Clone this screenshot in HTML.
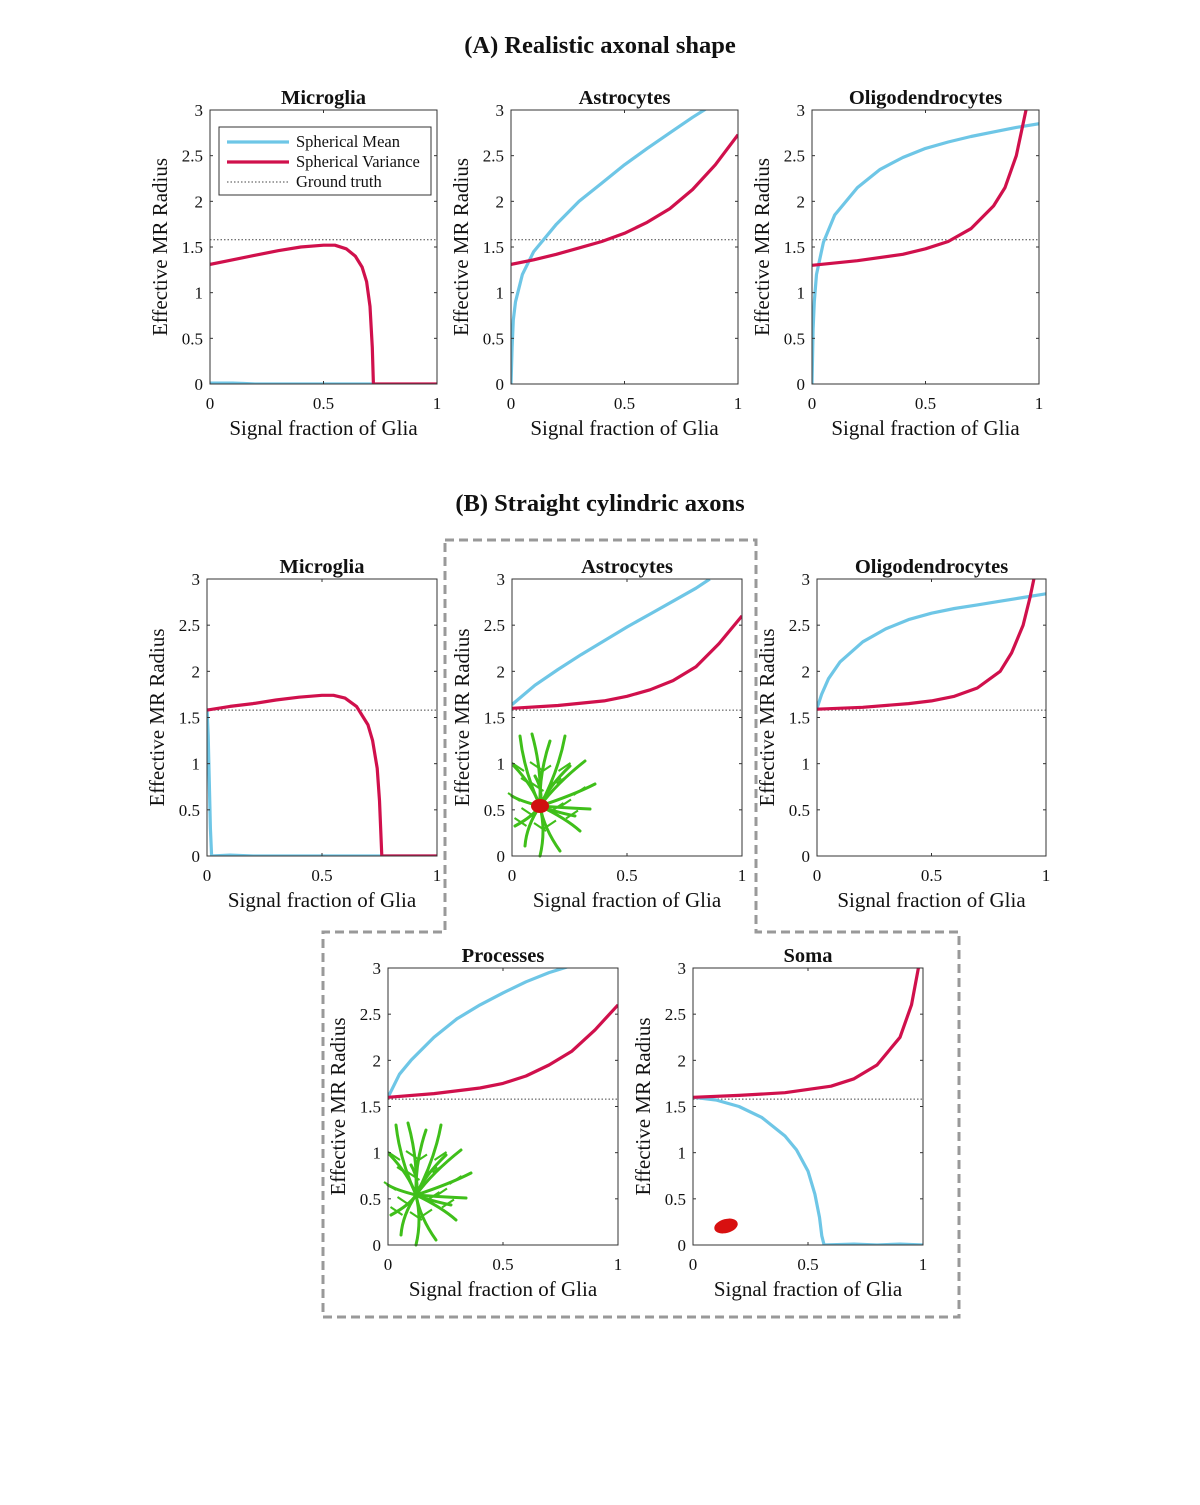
<!DOCTYPE html>
<html><head><meta charset="utf-8">
<style>
html,body{margin:0;padding:0;background:#fff;}
svg text{font-family:"Liberation Serif",serif;fill:#111;}
</style></head>
<body>
<svg id="fig" xmlns="http://www.w3.org/2000/svg" width="1200" height="1500" viewBox="0 0 1200 1500">
<rect width="1200" height="1500" fill="#fff"/>
<text x="600" y="53" text-anchor="middle" font-size="24.5" font-weight="bold">(A) Realistic axonal shape</text>
<text x="600" y="511" text-anchor="middle" font-size="24.5" font-weight="bold">(B) Straight cylindric axons</text>
<path d="M445,540 H756 V932 H959 V1317 H323 V932 H445 Z" fill="none" stroke="#999" stroke-width="3" stroke-dasharray="9,5"/>
<g id="panels"></g>
</svg>
<script>
// ---- data ----
const groundTruth = 1.58;
const yTicks = [0, 0.5, 1, 1.5, 2, 2.5, 3];
const yTickLabels = ["0","0.5","1","1.5","2","2.5","3"];
const xTicks = [0, 0.5, 1];
const xTickLabels = ["0","0.5","1"];

const aMicroSmX = [0,0.05,0.1,0.15,0.2,0.5,0.72];
const aMicroSmY = [0.01,0.01,0.01,0.005,0,0,0];
const aMicroSvX = [0,0.1,0.2,0.3,0.4,0.5,0.55,0.6,0.64,0.67,0.69,0.705,0.715,0.72,0.8,1];
const aMicroSvY = [1.31,1.36,1.41,1.46,1.5,1.52,1.52,1.48,1.4,1.28,1.12,0.85,0.4,0,0,0];

const aAstroSmX = [0,0.005,0.01,0.02,0.03,0.05,0.1,0.2,0.3,0.4,0.5,0.6,0.7,0.8,0.87];
const aAstroSmY = [0,0.4,0.7,0.9,1.0,1.2,1.45,1.75,2.0,2.2,2.4,2.58,2.75,2.92,3.03];
const aAstroSvX = [0,0.1,0.2,0.3,0.4,0.5,0.6,0.7,0.8,0.9,1];
const aAstroSvY = [1.31,1.36,1.42,1.49,1.56,1.65,1.77,1.92,2.13,2.4,2.73];

const aOligoSmX = [0,0.005,0.01,0.02,0.05,0.1,0.2,0.3,0.4,0.5,0.6,0.7,0.8,0.9,1];
const aOligoSmY = [0,0.6,0.9,1.2,1.55,1.85,2.15,2.35,2.48,2.58,2.65,2.71,2.76,2.81,2.85];
const aOligoSvX = [0,0.2,0.4,0.5,0.6,0.7,0.8,0.85,0.9,0.93,0.96];
const aOligoSvY = [1.3,1.35,1.42,1.48,1.56,1.7,1.95,2.15,2.5,2.85,3.2];

const bMicroSmX = [0,0.005,0.01,0.015,0.02,0.1,0.2,0.5,1];
const bMicroSmY = [1.6,1.3,0.8,0.3,0,0.01,0,0,0];
const bMicroSvX = [0,0.1,0.2,0.3,0.4,0.5,0.55,0.6,0.65,0.7,0.72,0.74,0.75,0.76,0.8,1];
const bMicroSvY = [1.58,1.62,1.65,1.69,1.72,1.74,1.74,1.71,1.62,1.42,1.25,0.95,0.6,0,0,0];

const bAstroSmX = [0,0.1,0.2,0.3,0.4,0.5,0.6,0.7,0.8,0.86];
const bAstroSmY = [1.64,1.85,2.02,2.18,2.33,2.48,2.62,2.76,2.9,3.0];
const bAstroSvX = [0,0.2,0.4,0.5,0.6,0.7,0.8,0.9,1];
const bAstroSvY = [1.6,1.63,1.68,1.73,1.8,1.9,2.05,2.3,2.6];

const bOligoSmX = [0,0.02,0.05,0.1,0.2,0.3,0.4,0.5,0.6,0.7,0.8,0.9,1];
const bOligoSmY = [1.6,1.75,1.92,2.1,2.32,2.46,2.56,2.63,2.68,2.72,2.76,2.8,2.84];
const bOligoSvX = [0,0.2,0.4,0.5,0.6,0.7,0.8,0.85,0.9,0.93,0.96];
const bOligoSvY = [1.59,1.61,1.65,1.68,1.73,1.82,2.0,2.2,2.5,2.8,3.15];

const cProcSmX = [0,0.05,0.1,0.2,0.3,0.4,0.5,0.6,0.7,0.79];
const cProcSmY = [1.6,1.85,2.0,2.25,2.45,2.6,2.73,2.85,2.95,3.02];
const cProcSvX = [0,0.2,0.4,0.5,0.6,0.7,0.8,0.9,1];
const cProcSvY = [1.6,1.64,1.7,1.75,1.83,1.95,2.1,2.33,2.6];

const cSomaSmX = [0,0.1,0.2,0.3,0.4,0.45,0.5,0.53,0.55,0.56,0.57,0.7,0.8,0.9,1];
const cSomaSmY = [1.6,1.57,1.5,1.38,1.18,1.03,0.8,0.55,0.3,0.1,0,0.01,0,0.01,0];
const cSomaSvX = [0,0.2,0.4,0.6,0.7,0.8,0.9,0.95,0.98,0.995];
const cSomaSvY = [1.6,1.62,1.65,1.72,1.8,1.95,2.25,2.6,3.0,3.3];

const panels = [
 {name:"a-microglia",title:"Microglia",x0:210,x1:437,y0:110,y1:384,smX:aMicroSmX,smY:aMicroSmY,svX:aMicroSvX,svY:aMicroSvY,legend:true},
 {name:"a-astrocytes",title:"Astrocytes",x0:511,x1:738,y0:110,y1:384,smX:aAstroSmX,smY:aAstroSmY,svX:aAstroSvX,svY:aAstroSvY},
 {name:"a-oligodendrocytes",title:"Oligodendrocytes",x0:812,x1:1039,y0:110,y1:384,smX:aOligoSmX,smY:aOligoSmY,svX:aOligoSvX,svY:aOligoSvY},
 {name:"b-microglia",title:"Microglia",x0:207,x1:437,y0:579,y1:856,smX:bMicroSmX,smY:bMicroSmY,svX:bMicroSvX,svY:bMicroSvY},
 {name:"b-astrocytes",title:"Astrocytes",x0:512,x1:742,y0:579,y1:856,smX:bAstroSmX,smY:bAstroSmY,svX:bAstroSvX,svY:bAstroSvY,cell:"full"},
 {name:"b-oligodendrocytes",title:"Oligodendrocytes",x0:817,x1:1046,y0:579,y1:856,smX:bOligoSmX,smY:bOligoSmY,svX:bOligoSvX,svY:bOligoSvY},
 {name:"c-processes",title:"Processes",x0:388,x1:618,y0:968,y1:1245,smX:cProcSmX,smY:cProcSmY,svX:cProcSvX,svY:cProcSvY,cell:"proc"},
 {name:"c-soma",title:"Soma",x0:693,x1:923,y0:968,y1:1245,smX:cSomaSmX,smY:cSomaSmY,svX:cSomaSvX,svY:cSomaSvY,cell:"soma"}
];

const NS="http://www.w3.org/2000/svg";
function mk(tag,attrs,parent){const e=document.createElementNS(NS,tag);for(const k in attrs)e.setAttribute(k,attrs[k]);if(parent)parent.appendChild(e);return e;}
const root=document.getElementById('panels');

function drawCell(g,p,withSoma,branches){
  const ox=p.x0, oy=p.y0+155;
  const cg=mk('g',{},g);
  
  
  if(branches){
    const cx=ox+28, cy=oy+72;
    const ends=[[-20,-70],[-8,-72],[10,-65],[25,-70],[45,-45],[55,-22],[50,3],[40,25],[20,45],[0,50],[-15,40],[-25,20],[-28,-10],[-26,-40],[30,-40],[-5,-30],[35,10]];
    ends.forEach((e,i)=>{
      const mx=cx+e[0]*0.5+(i%2?6:-6), my=cy+e[1]*0.5;
      mk('path',{d:`M${cx},${cy} Q${mx},${my} ${cx+e[0]},${cy+e[1]}`,stroke:'#3fbf1a',fill:'none','stroke-width':3,'stroke-linecap':'round'},cg);
      mk('path',{d:`M${mx},${my} l${e[0]>0?12:-12},${-8}`,stroke:'#3fbf1a',fill:'none','stroke-width':2},cg);
    });
    if(withSoma) mk('ellipse',{cx:cx,cy:cy,rx:9,ry:7,fill:'#d01010'},cg);
  } else {
    mk('ellipse',{cx:ox+33,cy:p.y1-19,rx:12,ry:7,fill:'#d81010',transform:`rotate(-15 ${ox+33} ${p.y1-19})`},cg);
  }
}

panels.forEach(p=>{
  const g=mk('g',{},root);
  
  
  const sx=v=>p.x0+v*(p.x1-p.x0);
  const sy=v=>p.y1-v/3*(p.y1-p.y0);
  const cid='clip-'+p.name;
  const cp=mk('clipPath',{id:cid},g);
  mk('rect',{x:p.x0,y:p.y0,width:p.x1-p.x0,height:p.y1-p.y0},cp);
  if(p.cell==='full') drawCell(g,p,true,true);
  if(p.cell==='proc') drawCell(g,p,false,true);
  if(p.cell==='soma') drawCell(g,p,true,false);
  const gt=mk('line',{x1:p.x0,x2:p.x1,y1:sy(groundTruth),y2:sy(groundTruth),stroke:'#444','stroke-width':1,'stroke-dasharray':'1.5,2'},g);
  
  
  const line=(xs,ys,color,nm)=>{
    const d=xs.map((x,i)=>(i?'L':'M')+sx(x).toFixed(1)+','+sy(ys[i]).toFixed(1)).join(' ');
    const e=mk('path',{d:d,fill:'none',stroke:color,'stroke-width':3.2,'stroke-linejoin':'round','clip-path':`url(#${cid})`},g);
    
    
  };
  line(p.smX,p.smY,'#6ec6e6','spherical-mean-line');
  line(p.svX,p.svY,'#d0104c','spherical-variance-line');
  const box=mk('rect',{x:p.x0,y:p.y0,width:p.x1-p.x0,height:p.y1-p.y0,fill:'none',stroke:'#333','stroke-width':1},g);
  
  
  yTicks.forEach((t,i)=>{
    mk('line',{x1:p.x0,x2:p.x0+3,y1:sy(t),y2:sy(t),stroke:'#333'},g);
    mk('line',{x1:p.x1,x2:p.x1-3,y1:sy(t),y2:sy(t),stroke:'#333'},g);
    const tx=mk('text',{x:p.x0-7,y:sy(t)+6,'text-anchor':'end','font-size':17},g);
    
    
    tx.textContent=yTickLabels[i];
  });
  xTicks.forEach((t,i)=>{
    mk('line',{x1:sx(t),x2:sx(t),y1:p.y1,y2:p.y1-3,stroke:'#333'},g);
    mk('line',{x1:sx(t),x2:sx(t),y1:p.y0,y2:p.y0+3,stroke:'#333'},g);
    const tx=mk('text',{x:sx(t),y:p.y1+25,'text-anchor':'middle','font-size':17},g);
    
    
    tx.textContent=xTickLabels[i];
  });
  const ti=mk('text',{x:(p.x0+p.x1)/2,y:p.y0-6,'text-anchor':'middle','font-size':20.5,'font-weight':'bold'},g);
  
  
  ti.textContent=p.title;
  const xl=mk('text',{x:(p.x0+p.x1)/2,y:p.y1+51,'text-anchor':'middle','font-size':21},g);
  
  
  xl.textContent='Signal fraction of Glia';
  const yc=(p.y0+p.y1)/2, yx=p.x0-43;
  const yl=mk('text',{x:yx,y:yc,'text-anchor':'middle','font-size':21,transform:`rotate(-90 ${yx} ${yc})`},g);
  
  
  yl.textContent='Effective MR Radius';
  if(p.legend){
    const lg=mk('g',{},g);
    
    
    mk('rect',{x:219,y:127,width:212,height:68,fill:'#fff',stroke:'#333','stroke-width':1},lg);
    const items=[['Spherical Mean','#6ec6e6',3.2,null],['Spherical Variance','#d0104c',3.2,null],['Ground truth','#444',1,'1.5,2']];
    items.forEach((it,i)=>{
      const y=142+i*20;
      const l=mk('line',{x1:227,x2:289,y1:y,y2:y,stroke:it[1],'stroke-width':it[2]},lg);
      if(it[3]) l.setAttribute('stroke-dasharray',it[3]);
      const t=mk('text',{x:296,y:y+5,'font-size':16.5},lg);
      
      
      t.textContent=it[0];
    });
  }
});
</script>
</body></html>
